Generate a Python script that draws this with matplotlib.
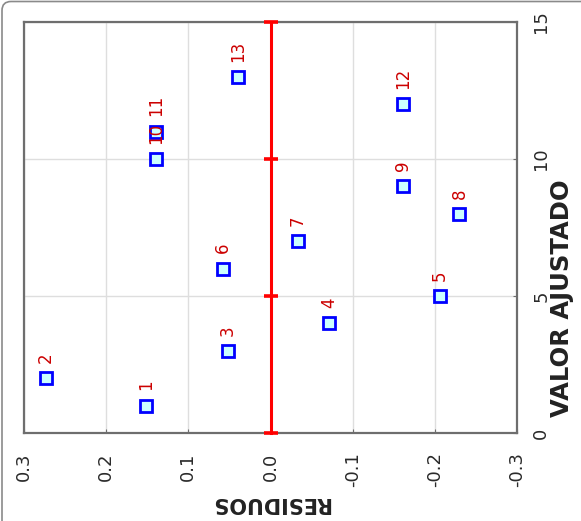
import matplotlib
matplotlib.use("Agg")
import matplotlib.pyplot as plt
from matplotlib.patches import FancyBboxPatch
from matplotlib.transforms import IdentityTransform

# ---- data ----
obs_labels = ["1", "2", "3", "4", "5", "6", "7", "8", "9", "10", "11", "12", "13"]
fitted = [1, 2, 3, 4, 5, 6, 7, 8, 9, 10, 11, 12, 13]
residuals = [0.151, 0.273, 0.052, -0.071, -0.206, 0.058, -0.033, -0.230,
             -0.161, 0.139, 0.139, -0.161, 0.040]
res_ticks = [0.3, 0.2, 0.1, 0.0, -0.1, -0.2, -0.3]
res_tick_labels = ["0.3", "0.2", "0.1", "0.0", "-0.1", "-0.2", "-0.3"]
fit_ticks = [0, 5, 10, 15]
fit_tick_labels = ["0", "5", "10", "15"]
zero_line_y = [0, 15]

W, H = 581, 521
fig = plt.figure(figsize=(W / 100, H / 100), dpi=100)
fig.patch.set_facecolor("white")

# outer rounded frame (only left/top visible), in pixel coordinates
frame = FancyBboxPatch((2, -80), 900, H - 1.5 + 80,
                       boxstyle="round,pad=0,rounding_size=9",
                       transform=IdentityTransform(), fill=False,
                       edgecolor="#8a8a8a", linewidth=1.2, clip_on=False)
fig.patches.append(frame)

ax = fig.add_axes([24 / W, (H - 433) / H, 493 / W, 411 / H])
ax.set_xlim(0.3, -0.3)
ax.set_ylim(0, 15)

for s in ax.spines.values():
    s.set_color("#6e6e6e")
    s.set_linewidth(1.6)

ax.grid(True, color="#dedede", linewidth=1.0)
ax.set_axisbelow(True)

tick_font = dict(family="DejaVu Sans", size=13)

ax.set_xticks(res_ticks)
ax.set_xticklabels(res_tick_labels, rotation=90, color="#2a2a2a", **tick_font)
ax.set_yticks(fit_ticks)
ax.yaxis.tick_right()
ax.set_yticklabels(fit_tick_labels, rotation=90, va="center", color="#2a2a2a", **tick_font)
ax.tick_params(axis="x", direction="in", length=3, color="#6e6e6e", pad=14)
ax.tick_params(axis="y", direction="in", length=3, color="#6e6e6e", pad=11,
               left=False, right=True)

# zero reference line with caps
ax.plot([0, 0], zero_line_y, color="#ff0000", linewidth=2.2, clip_on=False, zorder=3)
ax.plot([0] * len(fit_ticks), fit_ticks, linestyle="none", marker="_",
        markersize=9.5, markeredgewidth=2.6, color="#ff0000", clip_on=False, zorder=3)

# points
ax.plot(residuals, fitted, linestyle="none", marker="s", markersize=8,
        markerfacecolor="#ccffff", markeredgecolor="#0000ff",
        markeredgewidth=2.0, zorder=4)

for lab, r, f in zip(obs_labels, residuals, fitted):
    ax.annotate(lab, (r, f), xytext=(0, 11), textcoords="offset points",
                rotation=90, ha="center", va="bottom", color="#cc0000",
                fontsize=12, family="DejaVu Sans", zorder=5)

ax.set_xlabel("RESIDUOS", rotation=180, fontsize=15, fontweight="bold",
              family="DejaVu Sans", color="#222222", labelpad=4)

# right-side axis title (placed as in the reference, below axes centre)
fig.text(562 / W, 1 - 298 / H, "VALOR AJUSTADO", rotation=90, ha="center",
         va="center", fontsize=17.5, fontweight="bold", family="DejaVu Sans",
         color="#222222")

fig.savefig("out.png", dpi=100, facecolor="white")
